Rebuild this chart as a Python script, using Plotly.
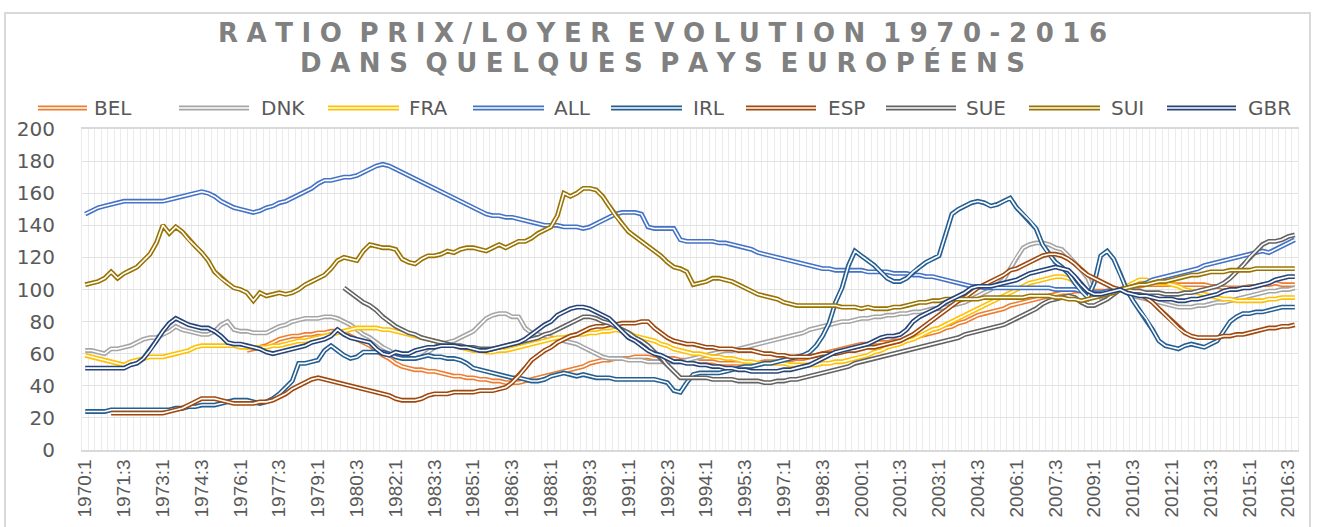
import plotly.graph_objects as go

# ---------------- data ----------------
years = list(range(1970, 2017))
quarters = [f"{y}:{q}" for y in years for q in range(1, 5)]  # 1970:1 .. 2016:4
tick_labels = [q if i % 6 == 0 else "" for i, q in enumerate(quarters)]

BEL = [None] * 25 + [
    62, 63, 64,
    65, 67, 69, 70,  71, 71, 72, 72,  73, 73, 74, 74,  73, 71, 69, 67,
    65, 62, 59, 57,  54, 52, 51, 50,  50, 49, 49, 48,  47, 46, 46, 45,
    45, 44, 44, 43,  43, 42, 42, 42,  43, 44, 45, 46,  47, 48, 49, 50,
    51, 52, 54, 55,  56, 56, 57, 57,  57, 58, 58, 58,  57, 57, 57, 57,
    56, 56, 56, 55,  55, 55, 54, 54,  54, 54, 54, 54,  54, 55, 55, 55,
    56, 56, 57, 57,  58, 59, 60, 61,  62, 63, 64, 65,  66, 66, 67, 67,
    67, 68, 68, 69,  70, 71, 72, 73,  74, 76, 77, 79,  80, 82, 84, 85,
    86, 87, 88, 90,  91, 92, 93, 94,  95, 96, 97, 98,  98, 99, 99, 99,
    99, 99, 99, 100,  100, 101, 102, 102,  103, 103, 103, 103,  103, 103, 103, 103,
    103, 103, 102, 102,  101, 101, 101, 101,  102, 102, 103, 103,  104, 103, 103, 103,
]

DNK = [
    62, 62, 61, 60,  63, 63, 64, 65,  67, 69, 70, 70,  72, 74, 77, 75,
    74, 73, 72, 72,  74, 78, 80, 75,  74, 74, 73, 73,  73, 75, 77, 78,
    80, 81, 82, 82,  82, 83, 83, 82,  80, 78, 75, 72,  70, 67, 64, 62,
    59, 58, 57, 57,  58, 61, 64, 66,  67, 68, 70, 72,  74, 78, 82, 84,
    85, 85, 83, 83,  76, 73, 72, 71,  70, 69, 68, 67,  66, 64, 62, 60,
    58, 57, 57, 57,  56, 56, 56, 55,  55, 55, 55, 55,  55, 56, 57, 58,
    59, 60, 61, 62,  62, 63, 64, 65,  66, 67, 68, 69,  70, 71, 72, 73,
    75, 76, 77, 78,  79, 80, 80, 81,  82, 82, 83, 83,  84, 84, 85, 85,
    86, 86, 87, 88,  88, 89, 90, 91,  92, 94, 96, 98,  100, 103, 106, 113,
    120, 126, 128, 129,  129, 128, 126, 125,  121, 117, 112, 107,  97, 95, 96, 98,
    100, 98, 96, 95,  94, 93, 92, 91,  90, 89, 89, 89,  90, 90, 91, 92,
    92, 93, 94, 95,  96, 97, 98, 99,  99, 100, 100, 101,
]

FRA = [
    59, 58, 57, 56,  55, 54, 53, 55,  56, 57, 58, 58,  58, 59, 60, 61,
    62, 64, 65, 65,  65, 65, 65, 65,  64, 64, 64, 64,  64, 65, 65, 66,
    67, 68, 68, 69,  70, 71, 72, 73,  74, 75, 76, 76,  76, 76, 75, 75,
    74, 73, 72, 71,  70, 69, 68, 67,  66, 65, 64, 63,  62, 62, 61, 61,
    62, 62, 63, 64,  65, 66, 67, 68,  69, 70, 70, 71,  72, 72, 73, 73,
    74, 74, 75, 74,  73, 71, 70, 69,  68, 66, 65, 63,  62, 61, 60, 60,
    59, 58, 58, 57,  57, 56, 55, 55,  54, 54, 54, 54,  54, 53, 53, 53,
    53, 53, 54, 54,  55, 55, 56, 57,  58, 59, 61, 62,  64, 65, 66, 68,
    69, 71, 73, 75,  76, 78, 80, 82,  84, 86, 88, 90,  92, 94, 96, 98,
    100, 102, 104, 105,  106, 107, 108, 108,  107, 105, 102, 99,  97, 97, 98, 99,
    100, 102, 104, 106,  106, 105, 104, 104,  103, 102, 100, 99,  98, 97, 96, 95,
    94, 94, 93, 93,  93, 93, 93, 94,  94, 95, 95, 95,
]

ALL = [
    147, 149, 151, 152,  153, 154, 155, 155,  155, 155, 155, 155,  155, 156, 157, 158,
    159, 160, 161, 160,  158, 155, 153, 151,  150, 149, 148, 149,  151, 152, 154, 155,
    157, 159, 161, 163,  166, 168, 168, 169,  170, 170, 171, 173,  175, 177, 178, 177,
    175, 173, 171, 169,  167, 165, 163, 161,  159, 157, 155, 153,  151, 149, 147, 146,
    146, 145, 145, 144,  143, 142, 141, 140,  140, 140, 139, 139,  139, 138, 139, 141,
    143, 145, 147, 148,  148, 148, 147, 139,  138, 138, 138, 138,  131, 130, 130, 130,
    130, 130, 129, 129,  128, 127, 126, 125,  123, 122, 121, 120,  119, 118, 117, 116,
    115, 114, 113, 113,  112, 112, 112, 112,  112, 111, 111, 111,  111, 110, 110, 110,
    109, 109, 108, 108,  107, 106, 105, 104,  103, 102, 102, 101,  101, 101, 101, 101,
    101, 101, 101, 101,  101, 101, 100, 100,  100, 100, 99, 99,  98, 98, 99, 99,
    100, 101, 102, 103,  104, 106, 107, 108,  109, 110, 111, 112,  113, 115, 116, 117,
    118, 119, 120, 121,  122, 123, 124, 123,  125, 127, 129, 131,
]

IRL = [
    24, 24, 24, 24,  25, 25, 25, 25,  25, 25, 25, 25,  25, 25, 26, 26,
    27, 27, 28, 28,  28, 29, 30, 31,  31, 31, 30, 29,  30, 32, 35, 39,
    43, 54, 54, 55,  56, 62, 65, 62,  59, 57, 58, 61,  61, 61, 61, 60,
    58, 57, 57, 57,  58, 59, 58, 58,  57, 57, 56, 54,  51, 50, 49, 48,
    47, 46, 45, 45,  44, 43, 43, 44,  46, 47, 48, 47,  46, 47, 46, 45,
    45, 45, 44, 44,  44, 44, 44, 44,  44, 43, 42, 37,  36, 42, 47, 48,
    48, 48, 48, 49,  50, 51, 52, 52,  53, 54, 54, 55,  56, 57, 58, 59,
    61, 65, 71, 79,  92, 101, 115, 124,  121, 118, 115, 111,  107, 105, 105, 107,
    111, 114, 117, 119,  121, 134, 147, 150,  152, 154, 155, 154,  152, 153, 155, 157,
    151, 147, 143, 138,  128, 122, 117, 114,  110, 104, 99, 95,  104, 121, 124, 119,
    110, 100, 93, 87,  82, 75, 68, 65,  64, 63, 65, 66,  65, 64, 66, 68,
    74, 80, 83, 85,  85, 86, 86, 87,  88, 89, 89, 89,
]

ESP = [None] * 4 + [
    23, 23, 23, 23,  23, 23, 23, 23,  23, 24, 25, 26,
    28, 30, 32, 32,  32, 31, 30, 29,  29, 29, 29, 30,  30, 31, 33, 35,
    38, 40, 42, 44,  45, 44, 43, 42,  41, 40, 39, 38,  37, 36, 35, 34,
    32, 31, 31, 31,  32, 34, 35, 35,  35, 36, 36, 36,  36, 37, 37, 37,
    38, 39, 42, 46,  51, 56, 59, 62,  64, 67, 69, 71,  72, 74, 76, 77,
    77, 78, 78, 79,  79, 79, 80, 80,  76, 73, 70, 68,  67, 66, 66, 65,
    64, 64, 63, 63,  63, 62, 62, 62,  61, 60, 60, 59,  59, 58, 58, 58,
    58, 59, 60, 60,  60, 61, 62, 62,  63, 64, 64, 65,  66, 67, 68, 70,
    72, 75, 78, 81,  84, 87, 90, 93,  95, 98, 101, 103,  105, 107, 109, 112,
    113, 115, 117, 119,  121, 122, 122, 121,  119, 116, 112, 109,  107, 105, 103, 101,
    100, 99, 98, 97,  95, 92, 88, 84,  80, 76, 73, 71,  70, 70, 70, 70,
    71, 71, 72, 72,  73, 74, 75, 76,  76, 77, 77, 78,
]

SUE = [None] * 40 + [
    101, 98, 95, 92,  90, 87, 83, 80,  77, 75, 73, 72,  70, 69, 68, 67,
    66, 65, 65, 64,  64, 63, 63, 63,  64, 65, 66, 67,  68, 69, 70, 72,
    73, 75, 77, 79,  81, 83, 83, 82,  80, 79, 77, 75,  73, 70, 68, 65,
    61, 58, 53, 49,  45, 45, 45, 45,  45, 44, 44, 44,  44, 43, 43, 43,
    43, 42, 42, 43,  43, 44, 44, 45,  46, 47, 48, 49,  50, 51, 52, 54,
    55, 56, 57, 58,  59, 60, 61, 62,  63, 64, 65, 66,  67, 68, 69, 70,
    72, 73, 74, 75,  76, 77, 78, 80,  82, 84, 86, 88,  91, 93, 94, 95,
    96, 95, 92, 90,  90, 92, 94, 97,  100, 100, 99, 99,  98, 98, 98, 97,
    97, 97, 98, 98,  99, 100, 101, 102,  104, 107, 111, 115,  120, 124, 128, 130,
    130, 131, 133, 134,
]

SUI = [
    103, 104, 105, 107,  111, 107, 110, 112,  114, 118, 122, 129,  140, 135, 139, 136,
    131, 127, 123, 118,  111, 107, 104, 101,  100, 98, 93, 98,  96, 97, 98, 97,
    98, 100, 103, 105,  107, 109, 113, 118,  120, 119, 118, 124,  128, 127, 126, 126,
    125, 119, 117, 116,  119, 121, 121, 122,  124, 123, 125, 126,  126, 125, 124, 126,
    128, 126, 128, 130,  130, 132, 135, 137,  139, 146, 160, 158,  160, 163, 163, 162,
    158, 152, 146, 141,  136, 133, 130, 127,  124, 121, 117, 114,  113, 111, 103, 104,
    105, 107, 107, 106,  105, 103, 101, 99,  97, 96, 95, 94,  92, 91, 90, 90,
    90, 90, 90, 90,  90, 89, 89, 89,  88, 89, 88, 88,  88, 89, 89, 90,
    91, 92, 92, 93,  93, 94, 94, 94,  94, 94, 94, 95,  95, 95, 95, 95,
    95, 95, 96, 96,  96, 96, 95, 95,  94, 94, 93, 94,  95, 96, 97, 98,
    100, 101, 102, 103,  103, 104, 105, 105,  106, 107, 108, 109,  109, 110, 111, 111,
    111, 112, 112, 112,  112, 113, 113, 113,  113, 113, 113, 113,
]

GBR = [
    51, 51, 51, 51,  51, 51, 51, 53,  54, 57, 62, 68,  74, 79, 82, 80,
    78, 77, 76, 76,  74, 71, 67, 66,  66, 65, 64, 63,  61, 60, 61, 62,
    63, 64, 65, 67,  68, 69, 71, 75,  72, 70, 69, 68,  67, 63, 60, 59,
    61, 60, 60, 62,  63, 64, 64, 65,  65, 65, 64, 64,  63, 62, 62, 63,
    64, 65, 66, 67,  69, 72, 75, 78,  80, 84, 86, 88,  89, 89, 88, 86,
    84, 82, 78, 74,  70, 68, 65, 62,  60, 59, 57, 55,  55, 54, 54, 53,
    53, 52, 52, 51,  51, 50, 50, 49,  49, 49, 49, 49,  50, 50, 51, 52,
    53, 55, 57, 59,  61, 62, 63, 64,  65, 66, 68, 70,  71, 71, 72, 75,
    80, 83, 85, 87,  89, 92, 94, 96,  98, 101, 102, 102,  102, 103, 104, 105,
    106, 108, 110, 111,  112, 113, 114, 113,  112, 108, 103, 99,  97, 97, 98, 99,
    100, 98, 97, 96,  96, 95, 94, 94,  94, 93, 93, 94,  94, 95, 96, 97,
    99, 100, 100, 101,  101, 102, 103, 104,  106, 107, 108, 108,
]

names = ["BEL", "DNK", "FRA", "ALL", "IRL", "ESP", "SUE", "SUI", "GBR"]
values = [BEL, DNK, FRA, ALL, IRL, ESP, SUE, SUI, GBR]
colors = ["#ED7D31", "#A5A5A5", "#FFC000", "#4472C4", "#255E91",
          "#9E480E", "#636363", "#997300", "#264478"]
for n, v in zip(names, values):
    assert len(v) == len(quarters), (n, len(v))

TITLE_1 = "RATIO PRIX/LOYER EVOLUTION 1970-2016"
TITLE_2 = "DANS QUELQUES PAYS EUROPÉENS"

# ---------------- figure ----------------
W, H = 1317, 527
ML, MR, MT, MB = 82, 19, 129, 77
PW, PH = W - ML - MR, H - MT - MB

def px(x):  # page pixel -> paper x
    return (x - ML) / PW

def py(y):  # page pixel -> paper y
    return (H - MB - y) / PH

def spaced(s):
    return "\u2004 ".join("\u2004".join(w) for w in s.split(" "))

LINE_W, GAP_W = 4.8, 1.6
fig = go.Figure()
for n, v, c in zip(names, values, colors):
    fig.add_trace(go.Scatter(x=quarters, y=v, mode="lines", name=n,
                             line=dict(color=c, width=LINE_W),
                             showlegend=False, hoverinfo="skip"))
    fig.add_trace(go.Scatter(x=quarters, y=v, mode="lines", name=n,
                             line=dict(color="white", width=GAP_W),
                             showlegend=False, hoverinfo="skip"))

shapes = [dict(type="rect", xref="paper", yref="paper",
               x0=px(5), x1=px(1310), y0=py(560), y1=py(13),
               line=dict(color="#D9D9D9", width=2), layer="below")]
annotations = []
TITLE_FONT = dict(family="DejaVu Sans", size=26, color="#808080", weight=700)
for txt, yy in ((TITLE_1, 33), (TITLE_2, 63)):
    annotations.append(dict(text=spaced(txt), xref="paper", yref="paper",
                            x=px(662), y=py(yy), xanchor="center", yanchor="middle",
                            showarrow=False, font=TITLE_FONT))

legend_pos = [(38, 87, 92), (179, 249, 259), (328, 399, 407), (473, 544, 552),
              (611, 682, 691), (746, 816, 826), (886, 956, 964),
              (1029, 1100, 1109), (1167, 1236, 1246)]
LEG_Y = 108
for n, c, (a, b, t) in zip(names, colors, legend_pos):
    shapes.append(dict(type="line", xref="paper", yref="paper",
                       x0=px(a), x1=px(b), y0=py(LEG_Y), y1=py(LEG_Y),
                       line=dict(color=c, width=LINE_W)))
    shapes.append(dict(type="line", xref="paper", yref="paper",
                       x0=px(a), x1=px(b), y0=py(LEG_Y), y1=py(LEG_Y),
                       line=dict(color="white", width=GAP_W)))
    annotations.append(dict(text=n, xref="paper", yref="paper",
                            x=px(t), y=py(LEG_Y), xanchor="left", yanchor="middle",
                            showarrow=False,
                            font=dict(family="DejaVu Sans", size=20, color="#595959")))

fig.update_layout(
    width=W, height=H, autosize=False,
    margin=dict(l=ML, r=MR, t=MT, b=MB, pad=0, autoexpand=False),
    paper_bgcolor="white", plot_bgcolor="white",
    shapes=shapes, annotations=annotations,
    showlegend=False,
)
fig.update_xaxes(
    type="category", range=[-0.5, len(quarters) - 0.5], automargin=False,
    tickmode="array", tickvals=quarters, ticktext=tick_labels,
    tickson="boundaries", ticks="", tickangle=-90,
    showgrid=True, gridcolor="#EBEBEB", gridwidth=1,
    showline=True, linecolor="#D9D9D9", linewidth=1.5, mirror=True,
    tickfont=dict(family="Liberation Sans", size=19, color="#595959"),
)
fig.update_yaxes(
    range=[0, 200], dtick=20, tick0=0, automargin=False,
    showgrid=True, gridcolor="#E3E3E3", gridwidth=1, zeroline=False,
    showline=True, linecolor="#EBEBEB", mirror=True,
    ticks="", ticklabelstandoff=22,
    tickfont=dict(family="DejaVu Sans", size=20, color="#595959"),
)

fig.write_html(
    "out.html",
    config={"displayModeBar": False},
    post_script="document.body.style.margin='0';document.body.style.overflow='hidden';",
)
